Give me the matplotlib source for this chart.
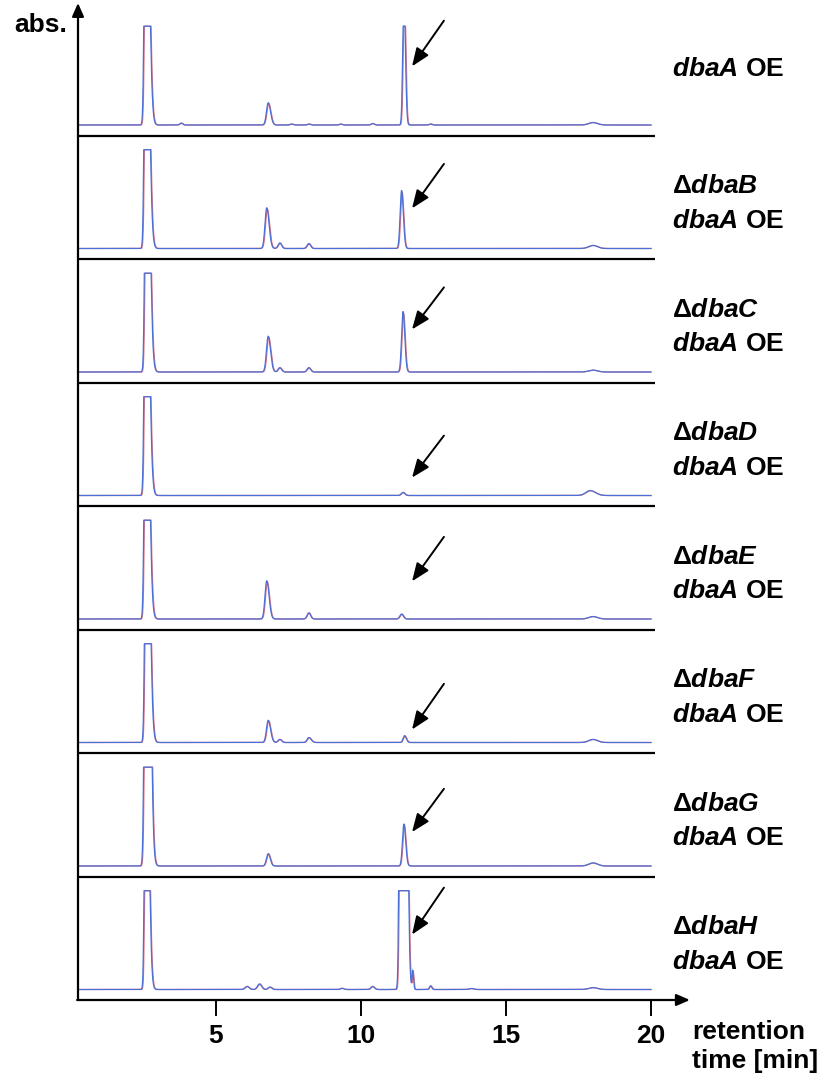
import matplotlib

matplotlib.use("Agg")
import matplotlib.pyplot as plt
import numpy as np

plt.rcParams["font.family"] = ["Liberation Sans", "DejaVu Sans"]
plt.rcParams["font.weight"] = "bold"
plt.rcParams["mathtext.fontset"] = "custom"
plt.rcParams["mathtext.it"] = "Liberation Sans:italic:bold"
plt.rcParams["mathtext.rm"] = "Liberation Sans:bold"
plt.rcParams["mathtext.bf"] = "Liberation Sans:bold"

# strains, top to bottom ("" = parent dbaA OE strain)
deletions = ["", "dbaB", "dbaC", "dbaD", "dbaE", "dbaF", "dbaG", "dbaH"]

# peaks per trace: (retention time [min], height [panel units], sigma left, sigma right)
peaks = [
    [(2.58, 3.0, 0.045, 0.10), (3.8, 0.015, 0.05, 0.05), (6.8, 0.18, 0.06, 0.08),
     (7.6, 0.008, 0.05, 0.05), (8.2, 0.008, 0.05, 0.05), (9.3, 0.008, 0.05, 0.05),
     (10.4, 0.012, 0.05, 0.05), (11.48, 1.1, 0.04, 0.05), (12.4, 0.008, 0.05, 0.05),
     (18.0, 0.02, 0.15, 0.15)],
    [(2.58, 3.0, 0.045, 0.10), (6.75, 0.33, 0.06, 0.08), (7.2, 0.045, 0.06, 0.06),
     (8.2, 0.04, 0.06, 0.06), (11.4, 0.47, 0.05, 0.06), (18.0, 0.025, 0.15, 0.15)],
    [(2.6, 3.0, 0.045, 0.10), (6.8, 0.29, 0.06, 0.08), (7.2, 0.035, 0.06, 0.06),
     (8.2, 0.035, 0.06, 0.06), (11.45, 0.49, 0.05, 0.06), (18.0, 0.015, 0.15, 0.15)],
    [(2.58, 3.0, 0.045, 0.10), (11.45, 0.025, 0.06, 0.06), (17.9, 0.04, 0.15, 0.18)],
    [(2.58, 3.0, 0.045, 0.10), (6.75, 0.31, 0.06, 0.08), (8.2, 0.05, 0.06, 0.06),
     (11.4, 0.04, 0.06, 0.06), (18.0, 0.02, 0.15, 0.15)],
    [(2.6, 3.0, 0.045, 0.10), (6.8, 0.18, 0.06, 0.08), (7.2, 0.025, 0.06, 0.06),
     (8.2, 0.04, 0.06, 0.08), (11.5, 0.055, 0.05, 0.06), (18.0, 0.025, 0.15, 0.15)],
    [(2.6, 6.0, 0.05, 0.10), (6.8, 0.10, 0.06, 0.07), (11.48, 0.34, 0.05, 0.06),
     (18.0, 0.025, 0.15, 0.15)],
    [(2.58, 3.0, 0.04, 0.09), (6.07, 0.025, 0.07, 0.07), (6.5, 0.045, 0.07, 0.07),
     (6.86, 0.02, 0.06, 0.06), (9.34, 0.01, 0.06, 0.06), (10.4, 0.025, 0.06, 0.06),
     (11.42, 20.0, 0.05, 0.09), (11.78, 0.15, 0.02, 0.03), (12.4, 0.03, 0.04, 0.04),
     (13.8, 0.008, 0.08, 0.08), (18.0, 0.015, 0.15, 0.15)],
]

# arrow pointing at the product peak: tail / head heights inside each panel
arrow_time = (12.86, 11.76)
arrow_tail_y = [0.93, 0.77, 0.77, 0.57, 0.75, 0.56, 0.71, 0.91]
arrow_head_y = [0.56, 0.41, 0.43, 0.23, 0.39, 0.19, 0.36, 0.53]

x_ticks = [5, 10, 15, 20]

U = 123.5                       # pixels per panel
T0, T1 = 0.2414, 21.69          # x limits of the axes (min)
BASE, CLIP = 0.085, 0.80        # baseline and detector saturation above baseline
BLUE, RED = "#4a6fd6", "#e07585"
FS = 19


def trace(t, pk, shift=0.0, scale=1.0):
    y = np.zeros_like(t)
    for t0, h, sl, sr in pk:
        d = t - (t0 + shift)
        s = np.where(d < 0, sl, sr)
        y += scale * h * np.exp(-0.5 * (d / s) ** 2)
    return np.minimum(y, CLIP)


fig = plt.figure(figsize=(8.23, 10.79), dpi=100)
ax = fig.add_axes([78 / 823, 79 / 1079, 622 / 823, 997 / 1079])
ax.set_xlim(T0, T1)
ax.set_ylim(0, 997 / U)
ax.axis("off")

t = np.linspace(0.25, 20.0, 6000)
n = len(deletions)
for i, (name, pk) in enumerate(zip(deletions, peaks)):
    y0 = n - 1 - i
    ax.plot(t, y0 + BASE + trace(t, pk, shift=0.02, scale=0.97), color=RED, lw=0.9)
    ax.plot(t, y0 + BASE + trace(t, pk), color=BLUE, lw=0.9)
    if y0 > 0:
        ax.plot([T0, 20.15], [y0, y0], color="k", lw=1.6, solid_capstyle="butt")
    ax.annotate("", xy=(arrow_time[1], y0 + arrow_head_y[i]),
                xytext=(arrow_time[0], y0 + arrow_tail_y[i]),
                arrowprops=dict(arrowstyle="-|>,head_length=0.5,head_width=0.2",
                                color="k", lw=1.4, shrinkA=0, shrinkB=0,
                                mutation_scale=22))
    lx = 20.72
    if name:
        ax.text(lx, y0 + 0.59, "Δ$\\mathit{" + name + "}$", fontsize=FS,
                ha="left", va="center")
        ax.text(lx, y0 + 0.31, "$\\mathit{dbaA}$ OE", fontsize=FS,
                ha="left", va="center")
    else:
        ax.text(lx, y0 + 0.54, "$\\mathit{dbaA}$ OE", fontsize=FS,
                ha="left", va="center")

# axes with arrow heads
arrow_axis = dict(arrowstyle="-|>,head_length=0.5,head_width=0.22", color="k",
                  lw=1.6, shrinkA=0, shrinkB=0, mutation_scale=16)
ax.annotate("", xy=(T0, 997 / U), xytext=(T0, 0), arrowprops=arrow_axis,
            annotation_clip=False)
ax.annotate("", xy=(21.34, 0), xytext=(T0 - 0.03, 0), arrowprops=arrow_axis,
            annotation_clip=False)

for xt in x_ticks:
    ax.plot([xt, xt], [0, -15 / U], color="k", lw=1.4, clip_on=False)
    ax.text(xt, -36 / U, str(xt), fontsize=FS, ha="center", va="center")

ax.text(21.41, -32 / U, "retention", fontsize=FS, ha="left", va="center")
ax.text(21.41, -61 / U, "time [min]", fontsize=FS, ha="left", va="center")
ax.text(-0.14, (1000 - 25) / U, "abs.", fontsize=FS, ha="right", va="center")

fig.savefig("out.png", dpi=100)
